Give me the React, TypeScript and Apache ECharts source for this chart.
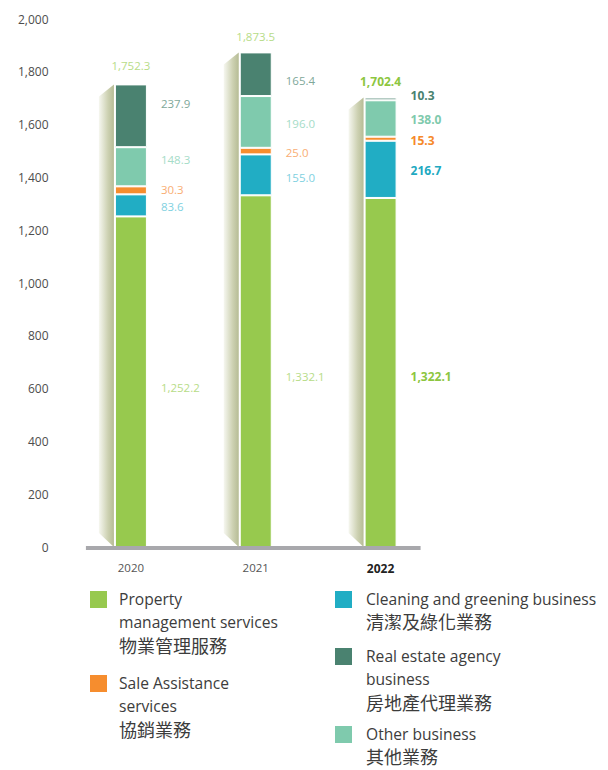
import React, { useEffect, useRef } from 'react';
import * as echarts from 'echarts';

const years = ['2020', '2021', '2022'];
const propertyMgmt = [1252.2, 1332.1, 1322.1];
const cleaning = [83.6, 155.0, 216.7];
const saleAssist = [30.3, 25.0, 15.3];
const otherBiz = [148.3, 196.0, 138.0];
const realEstate = [237.9, 165.4, 10.3];
const yMin = 0;
const yMax = 2000;
const yStep = 200;

const namesEn = [
  ['Property', 'management services'],
  ['Cleaning and greening business'],
  ['Sale Assistance', 'services'],
  ['Other business'],
  ['Real estate agency', 'business'],
];
const namesZh = ['物業管理服務', '清潔及綠化業務', '協銷業務', '其他業務', '房地產代理業務'];

const FONT = '"Open Sans", "Noto Sans CJK TC", sans-serif';
const colors = ['#97c94e', '#21adc4', '#f68d2e', '#7fcaad', '#4a8270'];
const lightColors = ['#b7dc88', '#7fd1df', '#f9ae74', '#a5dcc8', '#80a89a'];
const boldColors = ['#8dc63f', '#21a9c1', '#f6892a', '#7fcaad', '#4a8270'];
const stackData = [propertyMgmt, cleaning, saleAssist, otherBiz, realEstate];
const totals = years.map((_, i) => Math.round(stackData.reduce((s, a) => s + a[i], 0) * 10) / 10);

const fmt = (v: number) => v.toLocaleString('en-US', { minimumFractionDigits: 1, maximumFractionDigits: 1 });

// style: vertical nudges of value labels (per series, per year)
const labelNudge = [
  [6, 5, 4],
  [1, 3, 1],
  [-1, 1, 2],
  [-7, 2, 1],
  [-12, 6, -3],
];

// legend layout (positions only)
const legendLayout = [
  { series: 0, x: 90, y: 591, tx: 29 },
  { series: 2, x: 90, y: 675, tx: 29 },
  { series: 1, x: 335, y: 591, tx: 31 },
  { series: 4, x: 335, y: 648, tx: 31 },
  { series: 3, x: 335, y: 726, tx: 31 },
];

export default function App() {
  const ref = useRef<HTMLDivElement>(null);
  useEffect(() => {
    document.body.style.margin = '0';
    const chart = echarts.init(ref.current!, undefined, { renderer: 'svg' });
    const BAR_W = 32;
    const lastIdx = years.length - 1;

    const barSeries = stackData.map((arr, si) => ({
      type: 'bar',
      name: namesEn[si].join(' '),
      stack: 'total',
      barWidth: BAR_W,
      barGap: '-100%',
      z: 2,
      itemStyle: { color: colors[si], borderColor: '#ffffff', borderWidth: 1 },
      label: {
        show: true,
        position: 'right',
        distance: 14,
        fontFamily: FONT,
        fontSize: 11.5,
        color: lightColors[si],
        formatter: (p: any) => fmt(p.value),
      },
      data: arr.map((v, i) => ({
        value: v,
        label:
          i === lastIdx
            ? { fontWeight: 'bold', fontSize: 12, color: boldColors[si], offset: [0, labelNudge[si][i]] }
            : { offset: [0, labelNudge[si][i]] },
      })),
    }));

    const totalSeries = {
      type: 'bar',
      name: 'total',
      barWidth: BAR_W,
      barGap: '-100%',
      silent: true,
      z: 1,
      itemStyle: { color: 'rgba(0,0,0,0)' },
      label: {
        show: true,
        position: 'top',
        distance: 10,
        fontFamily: FONT,
        fontSize: 11.5,
        color: lightColors[0],
        formatter: (p: any) => fmt(p.value),
      },
      data: totals.map((v, i) => ({
        value: v,
        label:
          i === lastIdx
            ? { fontWeight: 'bold', fontSize: 12, color: boldColors[0] }
            : i === 0
            ? { distance: 13 }
            : {},
      })),
    };

    const shadowSeries = {
      type: 'custom',
      name: 'shadow',
      z: 3,
      silent: true,
      encode: { x: 0, y: 1 },
      data: totals.map((t, i) => [i, t]),
      renderItem: (params: any, api: any) => {
        const idx = api.value(0);
        const total = api.value(1);
        const top = api.coord([idx, total]);
        const base = api.coord([idx, 0]);
        const xr = top[0] - BAR_W / 2 - 1;
        const xl = xr - 15;
        const children: any[] = [
          {
            type: 'polygon',
            shape: {
              points: [
                [xl, top[1] + 12],
                [xr, top[1]],
                [xr, base[1]],
                [xl, base[1] - 14],
              ],
            },
            style: {
              fill: new echarts.graphic.LinearGradient(0, 0, 1, 0, [
                { offset: 0, color: '#f6f7f0' },
                { offset: 0.6, color: '#cdd1b2' },
                { offset: 1, color: '#b6bc95' },
              ]),
            },
          },
        ];
        if (params.dataIndex === 0) {
          const end = api.coord([lastIdx, 0]);
          children.push({
            type: 'line',
            shape: { x1: base[0] - 45, y1: base[1] + 1, x2: end[0] + 40, y2: base[1] + 1 },
            style: { stroke: '#a8a8ac', lineWidth: 4 },
          });
        }
        return { type: 'group', children };
      },
    };

    const graphics: any[] = [];
    legendLayout.forEach((it) => {
      graphics.push({
        type: 'rect',
        shape: { x: it.x, y: it.y, width: 17, height: 17 },
        style: { fill: colors[it.series] },
      });
      const lines = [...namesEn[it.series], namesZh[it.series]];
      lines.forEach((ln, li) => {
        const isZh = li === lines.length - 1;
        graphics.push({
          type: 'text',
          x: it.x + it.tx,
          y: it.y + 7.5 + li * 23.5,
          style: {
            text: ln,
            fill: '#3c3c3c',
            fontFamily: FONT,
            fontSize: isZh ? 18 : 15.6,
            verticalAlign: 'middle',
            align: 'left',
          },
        });
      });
    });

    chart.setOption({
      animation: false,
      grid: { left: 68.5, right: 165, top: 19, bottom: 223 },
      xAxis: {
        type: 'category',
        data: years.map((y, i) => ({
          value: y,
          textStyle: i === lastIdx ? { fontWeight: 'bold', color: '#222', fontSize: 12 } : {},
        })),
        axisLine: { show: false },
        axisTick: { show: false },
        axisLabel: { margin: 15, color: '#555', fontSize: 11.5, fontFamily: FONT },
      },
      yAxis: {
        type: 'value',
        min: yMin,
        max: yMax,
        interval: yStep,
        axisLine: { show: false },
        axisTick: { show: false },
        splitLine: { show: false },
        axisLabel: {
          margin: 20,
          color: '#4d4d4d',
          fontSize: 12,
          fontFamily: FONT,
          formatter: (v: number) => v.toLocaleString('en-US'),
        },
      },
      series: [...barSeries, totalSeries, shadowSeries],
      graphic: graphics,
    });
    return () => chart.dispose();
  }, []);
  return <div ref={ref} style={{ width: 608, height: 770 }} />;
}
